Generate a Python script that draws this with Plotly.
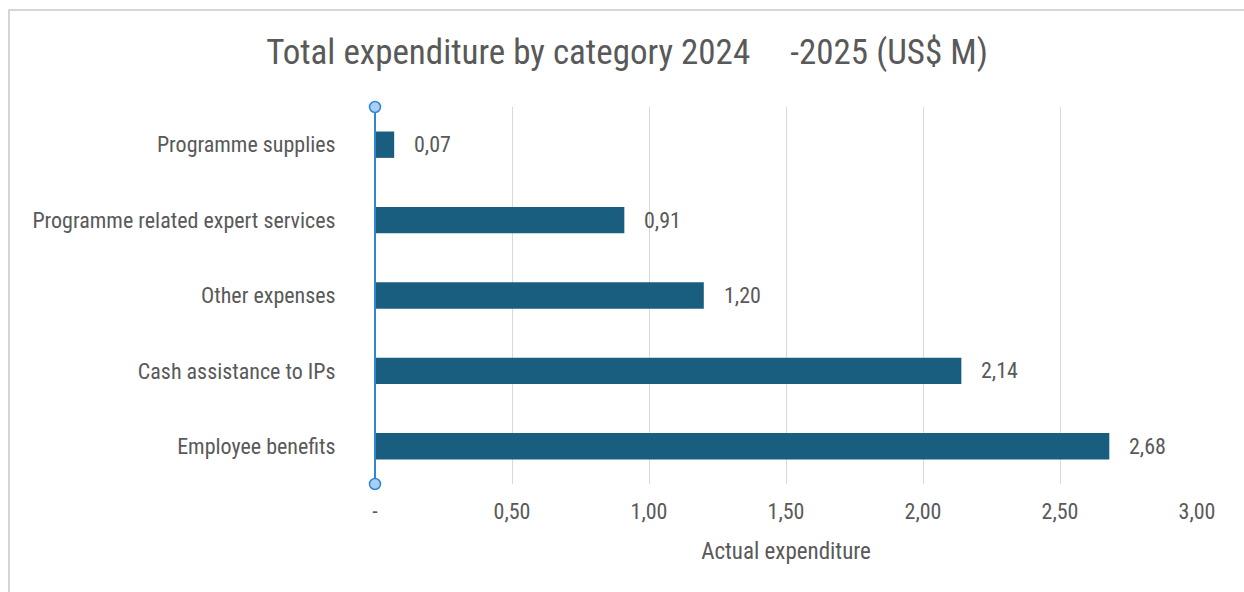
import plotly.graph_objects as go

categories = ["Employee benefits", "Cash assistance to IPs", "Other expenses",
              "Programme related expert services", "Programme supplies"]
values = [2.68, 2.14, 1.20, 0.91, 0.07]
tick_vals = [0, 0.5, 1.0, 1.5, 2.0, 2.5, 3.0]
tick_text = ["-", "0,50", "1,00", "1,50", "2,00", "2,50", "3,00"]

FONT = "Liberation Sans Narrow, Roboto Condensed, Arial Narrow, sans-serif"
BAR = "#1a5e7f"
AXIS_BLUE = "#2f86d6"
GREY = "#595959"

fig = go.Figure()
fig.add_trace(go.Bar(
    x=values, y=categories, orientation="h",
    marker=dict(color=BAR, line=dict(width=0)),
    width=0.35, hoverinfo="x+y",
))

for v, c in zip(values, categories):
    fig.add_annotation(x=v, y=c, xref="x", yref="y", text=f"{v:.2f}".replace(".", ","),
                       showarrow=False, xanchor="left", xshift=18,
                       font=dict(family=FONT, size=22, color=GREY))

# blue axis line with end handles
fig.add_shape(type="line", xref="paper", yref="paper", x0=0, x1=0, y0=0, y1=1,
              line=dict(color=AXIS_BLUE, width=2), layer="above")
for yy in (0, 1):
    fig.add_shape(type="circle", xref="paper", yref="paper", xsizemode="pixel", ysizemode="pixel",
                  xanchor=0, yanchor=yy, x0=-5.5, x1=5.5, y0=-5.5, y1=5.5,
                  fillcolor="#a9cff5", line=dict(color=AXIS_BLUE, width=1.5), layer="above")

# outer frame (partially visible)
fig.add_shape(type="rect", xref="paper", yref="paper",
              x0=(9 - 375) / 822, x1=1.2, y0=-0.4, y1=(484 - 10) / 377,
              line=dict(color="#c8c8c8", width=1.5), fillcolor="rgba(0,0,0,0)", layer="below")

fig.update_layout(
    width=1244, height=592,
    margin=dict(l=375, r=47, t=107, b=108),
    paper_bgcolor="white", plot_bgcolor="white",
    showlegend=False,
    separators=",.",
    title=dict(text="Total expenditure by category 2024\u00a0\u00a0\u00a0\u00a0\u00a0-2025 (US$ M)",
               x=627 / 1244, xanchor="center", xref="container",
               y=1 - 52 / 592, yanchor="middle", yref="container",
               font=dict(family=FONT, size=35, color=GREY)),
    xaxis=dict(range=[0, 3.0], tickvals=tick_vals, ticktext=tick_text,
               showgrid=True, gridcolor="#d9d9d9", gridwidth=1,
               zeroline=False, showline=False, ticks="outside", ticklen=8,
               tickcolor="rgba(0,0,0,0)",
               tickfont=dict(family=FONT, size=22, color=GREY),
               title=dict(text="Actual expenditure", standoff=19,
                          font=dict(family=FONT, size=23, color=GREY))),
    yaxis=dict(showgrid=False, zeroline=False, showline=False, ticks="outside",
               ticklen=34, tickcolor="rgba(0,0,0,0)",
               tickfont=dict(family=FONT, size=22, color=GREY)),
)

fig.write_html("out.html")
